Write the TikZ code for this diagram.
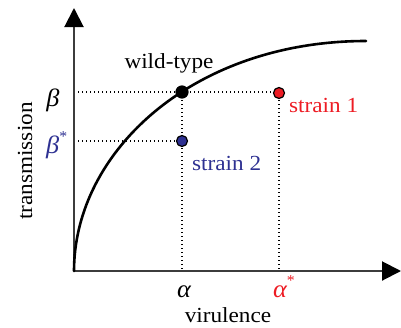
\documentclass[tikz,border=0pt]{standalone}
\usepackage{fontspec}
\setmainfont{Liberation Serif}[FakeStretch=1.08]
\newfontfamily\greekfont{Liberation Serif}[FakeStretch=1.05]
\usetikzlibrary{arrows.meta}
\definecolor{sred}{RGB}{237,28,36}
\definecolor{sblue}{RGB}{46,49,146}
\definecolor{axisgray}{RGB}{60,60,60}
\tikzset{
  lbl/.style={inner sep=0pt, font=\fontsize{21.5pt}{24pt}\selectfont},
  glbl/.style={inner sep=0pt, font=\greekfont\itshape\fontsize{25pt}{27pt}\selectfont},
  axisline/.style={draw=axisgray, line width=2pt, -{Triangle[length=19pt,width=19pt,color=black]}},
  guide/.style={draw=black, line width=1.3pt, dash pattern=on 1.3pt off 2.7pt},
  pt/.style={circle, draw=black, line width=1.2pt, inner sep=0pt, minimum size=#1},
}
\newcommand{\mystar}{\raisebox{0.45em}{\upshape\fontsize{15pt}{15pt}\selectfont *}}
\begin{document}
\begin{tikzpicture}[x=1pt,y=-1pt]
\useasboundingbox (0,0) rectangle (401,327);
\coordinate (origin) at (74,271);
\coordinate (ytip) at (74,8);
\coordinate (xtip) at (401,271);
\coordinate (yb) at (74,92);
\coordinate (ybs) at (74,141);
\coordinate (xa) at (182,271);
\coordinate (xas) at (279,271);
% guides
\draw[guide] (yb) -- (279,92);
\draw[guide] (ybs) -- (182,141);
\draw[guide] (182,92) -- (xa);
\draw[guide] (279,92) -- (xas);
% axes
\draw[axisline] (origin) -- (ytip);
\draw[axisline] (origin) -- (xtip);
% curve
\draw[line width=2.6pt, line cap=round] (origin) .. controls (74,151) and (194,41) .. (366,41);
% points
\node[pt=12pt, fill=black] (wt) at (182,92) {};
\node[pt=11pt, fill=sred] (s1) at (279,93) {};
\node[pt=11pt, fill=sblue] (s2) at (182,141) {};
% labels
\node[lbl, anchor=base] (wtl) at (169,68) {wild-type};
\node[lbl, anchor=base west, text=sred] (s1l) at (289,112) {strain 1};
\node[lbl, anchor=base west, text=sblue] (s2l) at (192,170) {strain 2};
\node[glbl, anchor=base] (beta) at (53,106) {β};
\node[glbl, anchor=base west, text=sblue] (betas) at (46,153) {β\mystar};
\node[glbl, anchor=base] (alpha) at (184,297) {α};
\node[glbl, anchor=base west, text=sred] (alphas) at (273,297) {α\mystar};
\node[lbl, anchor=base] (xl) at (228,322) {virulence};
\node[lbl, anchor=base, rotate=90] (yl) at (32,161) {transmission};
\end{tikzpicture}
\end{document}
